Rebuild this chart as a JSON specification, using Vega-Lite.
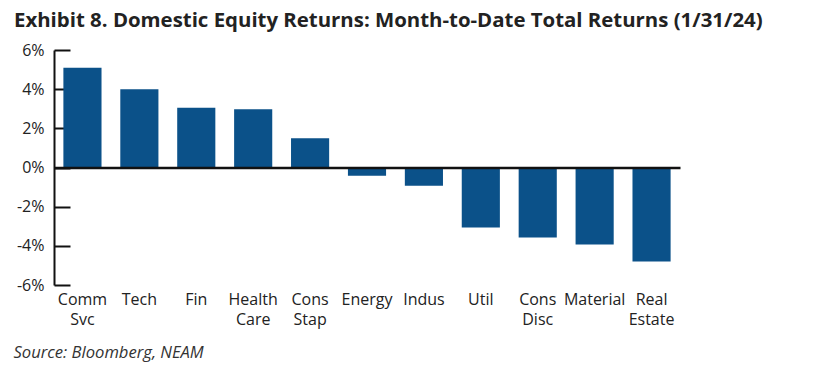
{
  "$schema": "https://vega.github.io/schema/vega-lite/v6.json",
  "width": 626,
  "height": 235,
  "autosize": {"type": "none"},
  "padding": {"left": 54, "top": 50, "right": 149, "bottom": 81},
  "background": "white",
  "title": {
    "text": "Exhibit 8. Domestic Equity Returns: Month-to-Date Total Returns (1/31/24)",
    "anchor": "start",
    "frame": "group",
    "dx": -40,
    "offset": -5,
    "baseline": "alphabetic",
    "font": "Open Sans",
    "fontSize": 20.4,
    "fontWeight": "bold",
    "color": "#222222"
  },
  "data": {
    "values": [
      {"sector": "Comm Svc", "ret": 5.1},
      {"sector": "Tech", "ret": 4.0},
      {"sector": "Fin", "ret": 3.05},
      {"sector": "Health Care", "ret": 2.98},
      {"sector": "Cons Stap", "ret": 1.5},
      {"sector": "Energy", "ret": -0.42},
      {"sector": "Indus", "ret": -0.93},
      {"sector": "Util", "ret": -3.06},
      {"sector": "Cons Disc", "ret": -3.57},
      {"sector": "Material", "ret": -3.93},
      {"sector": "Real Estate", "ret": -4.8}
    ]
  },
  "config": {
    "view": {"stroke": null},
    "font": "Open Sans"
  },
  "mark": {"type": "bar", "color": "#0b5189"},
  "encoding": {
    "x": {
      "field": "sector",
      "type": "nominal",
      "sort": null,
      "scale": {"paddingInner": 0.33, "paddingOuter": 0.165},
      "axis": {
        "zindex": 1,
        "offset": -117.5,
        "title": "Source: Bloomberg, NEAM",
        "titleFont": "Open Sans",
        "titleFontStyle": "italic",
        "titleFontWeight": "normal",
        "titleFontSize": 16.6,
        "titleColor": "#333333",
        "titleAnchor": "start",
        "titleAlign": "left",
        "titleBaseline": "alphabetic",
        "titleX": -41,
        "titleY": 189.5,
        "labelAngle": 0,
        "labelExpr": "split(datum.label, ' ')",
        "labelFontSize": 16,
        "labelColor": "#222222",
        "labelLineHeight": 20,
        "labelPadding": 123.5,
        "labelBaseline": "top",
        "domain": true,
        "domainColor": "#111111",
        "domainWidth": 2.5,
        "ticks": false
      }
    },
    "y": {
      "field": "ret",
      "type": "quantitative",
      "scale": {"domain": [-6, 6]},
      "axis": {
        "title": null,
        "values": [-6, -4, -2, 0, 2, 4, 6],
        "labelExpr": "datum.value + '%'",
        "labelOverlap": false,
        "labelFontSize": 16,
        "labelColor": "#222222",
        "grid": false,
        "domainColor": "#111111",
        "domainWidth": 2,
        "tickColor": "#111111",
        "tickWidth": 2,
        "tickSize": -16,
        "labelPadding": 26
      }
    }
  }
}
